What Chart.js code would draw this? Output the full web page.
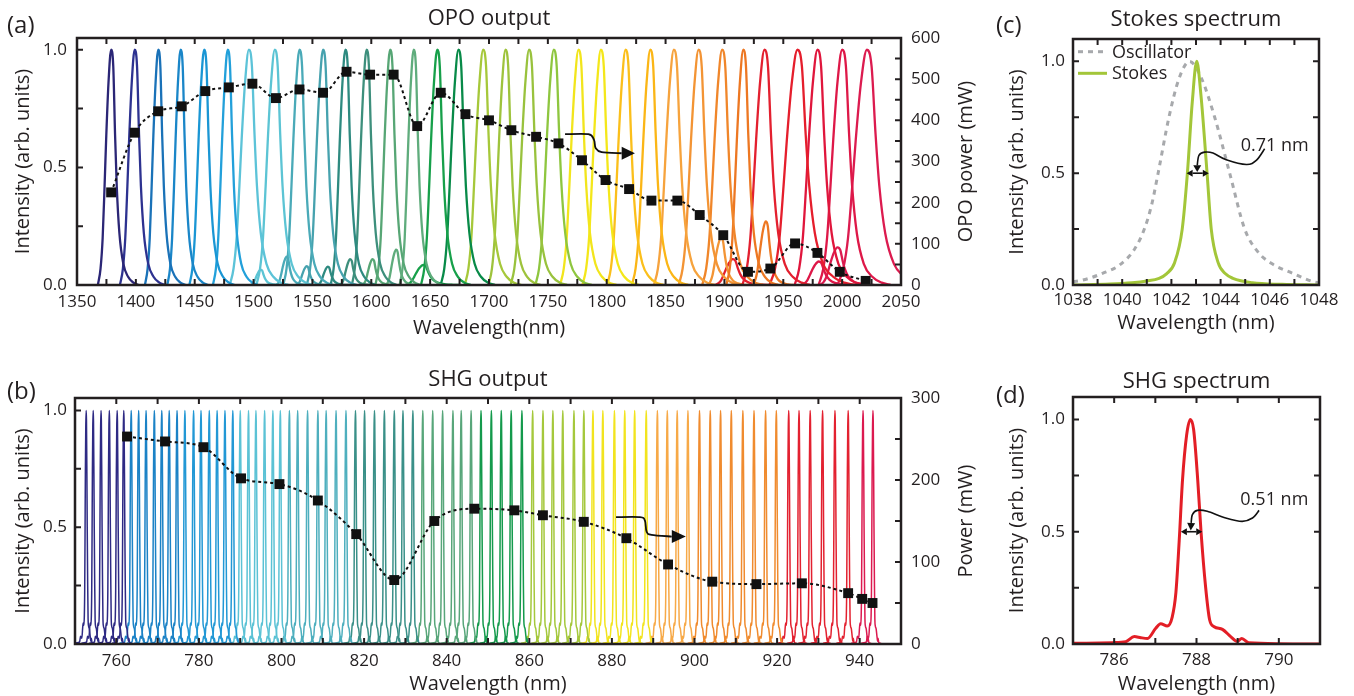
<!DOCTYPE html>
<html><head><meta charset="utf-8">
<script src="https://cdn.jsdelivr.net/npm/chart.js@4.4.1/dist/chart.umd.min.js"></script>
<style>
html,body{margin:0;padding:0;background:#fff;}
#wrap{position:relative;width:1354px;height:696px;overflow:hidden;font-family:"Open Sans",sans-serif;color:#231f20;background:#fff;}
canvas{position:absolute;}
.lab{position:absolute;font-size:24px;line-height:24px;white-space:nowrap;}
</style></head><body>
<div id="wrap">
<canvas id="cA" width="985" height="340" style="left:0;top:0"></canvas>
<canvas id="cB" width="985" height="356" style="left:0;top:340px"></canvas>
<canvas id="cC" width="369" height="340" style="left:985px;top:0"></canvas>
<canvas id="cD" width="369" height="356" style="left:985px;top:340px"></canvas>
<div class="lab" style="left:7px;top:12px">(a)</div>
<div class="lab" style="left:7px;top:378px">(b)</div>
<div class="lab" style="left:996px;top:12px">(c)</div>
<div class="lab" style="left:996px;top:382px">(d)</div>
</div>
<script>
// ================= DATA =================
// (a) OPO output
const opoXTicks = [1350,1400,1450,1500,1550,1600,1650,1700,1750,1800,1850,1900,1950,2000,2050];
const intensityTicks = [0, 0.5, 1.0];
const opoPowerTicks = [0,100,200,300,400,500,600];
const opoPowerWl = [1379,1399,1419,1439,1459,1479,1499,1519,1539,1559,1579,1599,1619,1639,1659,1680,1700,1719,1740,1759,1779,1799,1819,1838,1860,1879,1899,1920,1939,1960,1979,1998,2020];
const opoPowerMw = [225,370,422,434,471,480,489,454,475,467,518,511,511,386,467,415,400,376,360,344,303,255,233,205,205,170,121,32,40,101,78,32,10];
const opoPeakCenter = [1379,1399,1419,1438,1458,1478,1496,1518,1539,1559,1578,1596,1616,1636,1656,1674,1695,1714,1734,1755,1776,1795,1816,1837,1857,1878,1898,1916,1934,1962,1979,2000,2021];
const opoPeakFwhm = [9,10,9,9,10,10,13,12.5,11,11,10,10,10,9.5,11,12,12.5,11.5,12.5,12.5,12.5,12.5,12.5,12.5,13.5,13.5,13.5,11.5,15,19,15.5,16,20];
// normalised peak profile (offset in FWHM units, intensity)
const opoShapeOffset = [-1.25,-1.0,-0.8,-0.62,-0.47,-0.25,0,0.2,0.37,0.53,0.78,1.15,1.6,2.1,2.6];
const opoShapeLevel  = [0,0.07,0.2,0.42,0.62,0.86,1,0.93,0.64,0.42,0.22,0.09,0.035,0.01,0];
// secondary humps (index of parent trace, centre nm, height, FWHM nm)
const opoBumpParent = [7,8,9,10,11,12,13,14,25,27,28,31,32];
const opoBumpCenter = [1506,1528,1545,1563,1582,1601,1621,1644,1897,1935,1907,1980,1996];
const opoBumpHeight = [0.065,0.12,0.08,0.078,0.11,0.11,0.15,0.085,0.2,0.27,0.11,0.1,0.16];
const opoBumpFwhm   = [7,7,7,7,7,7,7,12,9,9,12,12,12];

// (b) SHG output
const shgXTicks = [760,780,800,820,840,860,880,900,920,940];
const shgPowerTicks = [0,100,200,300];
const shgPowerWl = [762.6,771.8,781.1,790.2,799.5,808.8,818.1,827.3,837.0,846.7,856.4,863.3,873.2,883.5,893.6,904.3,915.0,926.0,937.2,940.6,943.1];
const shgPowerMw = [253,247,240,202,195,175,134,78,150,165,163,157,149,129,97,76,73,74,62,55,50];
const shgPeakCenter = [
 752.7,754.4,756.3,758.3,760.2,761.8,763.6,765.4,767.2,769.2,771.0,772.8,774.7,776.6,778.7,780.5,782.5,784.4,786.3,788.2,790.0,792.0,793.8,795.9,797.9,799.7,
 801.9,803.9,806.3,808.8,810.8,813.2,815.6,817.9,820.1,822.5,824.9,827.3,829.4,831.8,834.2,836.6,839.0,841.5,843.5,845.9,848.3,
 850.8,853.2,855.6,858.2,860.8,863.3,865.7,868.1,870.8,873.2,875.4,877.8,880.6,883.1,885.5,888.3,891.0,893.4,895.8,898.4,
 901.2,903.8,906.3,908.9,911.7,914.4,917.2,919.8,922.8,925.3,928.0,931.0,934.0,937.2,940.8,943.2];

// (c) Stokes spectrum
const stokesXTicks = [1038,1040,1042,1044,1046,1048];
const oscWl = [1038.0,1038.4,1039.2,1039.9,1040.5,1040.9,1041.2,1041.46,1041.9,1042.3,1042.74,1043.2,1043.76,1044.37,1044.98,1045.5,1046.06,1046.94,1047.76,1048.0];
const oscI  = [0.015,0.022,0.052,0.09,0.16,0.25,0.36,0.5,0.75,0.92,1.0,0.93,0.75,0.5,0.25,0.15,0.097,0.052,0.015,0.01];
const stokesWl = [1038.0,1039.5,1040.4,1041.0,1041.5,1041.8,1042.13,1042.44,1042.65,1042.85,1043.03,1043.2,1043.45,1043.62,1043.9,1044.2,1044.5,1045.3,1046.5,1048.0];
const stokesI  = [0.0,0.004,0.01,0.018,0.03,0.05,0.1,0.25,0.5,0.82,1.0,0.85,0.5,0.25,0.1,0.05,0.03,0.01,0.003,0.0];

// (d) SHG spectrum
const shgSpecXTicks = [786,788,790];
const shgSpecWl = [785.0,785.96,786.28,786.49,786.65,786.81,787.01,787.13,787.29,787.41,787.50,787.58,787.66,787.76,787.85,787.93,788.03,788.11,788.22,788.32,788.43,788.63,788.83,788.99,789.10,789.27,791.0];
const shgSpecI  = [0.003,0.006,0.01,0.033,0.028,0.025,0.07,0.09,0.08,0.12,0.23,0.46,0.73,0.93,1.0,0.955,0.73,0.5,0.256,0.107,0.077,0.065,0.033,0.012,0.025,0.006,0.0];
const shgSpecPeak = 787.85;

// ================= STYLE =================
const INK = '#231f20';
const FONT = '"Open Sans", sans-serif';
Chart.defaults.font.family = FONT;
Chart.defaults.color = INK;

const opoPeakColor = ['#2b2676','#2d3290','#1a72b8','#1a86c8','#1a96d4','#22a0da','#5cc3d8','#5cc4d4','#4aaab8','#46a2ae','#2e8a80','#3d8f7c','#57a675','#5fac7c','#17a04a','#088a48','#a6c83a','#9ec33c','#99c23d','#8ec63f','#f2e51c','#f4e71a','#fbbf1b','#fbb616','#f6a33d','#f39434','#f0862a','#ed7722','#e3202f','#e51e2c','#e0163c','#de1848','#dc1b4f'];
const shgBands = [[762.5,'#2e2a84'],[776,'#1b82c6'],[789,'#2298d5'],[800.5,'#5bc2d5'],[816,'#4eafbe'],[832,'#3a9088'],[846.5,'#58a67a'],[860,'#149a4c'],[874.5,'#a5c83c'],[889.5,'#f2e41e'],[900,'#f7a947'],[921,'#f08b2e'],[939,'#e32130'],[999,'#dc1a50']];
const shgColor = nm => shgBands.find(b => nm <= b[0])[1];

function steps(a, b, s) { const r = []; for (let v = a; v <= b + 1e-9; v += s) r.push(Math.round(v * 1e6) / 1e6); return r; }
function setTicks(list) { return sc => { sc.ticks = list.map(v => ({ value: v })); }; }
const f1 = v => Number(v).toFixed(1);
const fi = v => String(v);

function xAxis(min, max, list, title, h, pad, tpad) {
  return { type: 'linear', position: 'bottom', min, max,
    afterBuildTicks: setTicks(list), afterFit: s => { s.height = h; },
    grid: { display: false, drawTicks: false }, border: { display: false },
    ticks: { padding: pad, color: INK, font: { size: 17 }, maxRotation: 0, minRotation: 0, autoSkip: false, callback: fi },
    title: { display: true, text: title, color: INK, font: { size: 20, lineHeight: 1.2 }, padding: { top: 0, bottom: tpad } } };
}
function yAxis(pos, min, max, list, fmt, w, pad, title, tpad) {
  return { type: 'linear', position: pos, min, max,
    afterBuildTicks: setTicks(list), afterFit: s => { s.width = w; },
    grid: { display: false, drawTicks: false }, border: { display: false },
    ticks: { padding: pad, color: INK, font: { size: 17 }, autoSkip: false, callback: fmt },
    title: title ? { display: true, text: title, color: INK, font: { size: 20, lineHeight: 1.2 }, padding: { top: tpad, bottom: 0 } } : { display: false } };
}
function baseOptions(titleText, tTop, tBot, padRight, scales) {
  return { responsive: false, animation: false, events: [],
    layout: { padding: { left: 0, right: padRight, top: 0, bottom: 0 } },
    elements: { point: { radius: 0 }, line: { borderJoinStyle: 'round' } },
    plugins: { legend: { display: false }, tooltip: { enabled: false },
      title: { display: true, text: titleText, color: INK, font: { size: 22, weight: 'normal', lineHeight: 1.2 }, padding: { top: tTop, bottom: tBot }, fullSize: false } },
    scales };
}

// ---- plugins ----
function framePlugin(cfg) {
  return { id: 'frame', afterDatasetsDraw(chart) {
    const { ctx, chartArea: a, scales } = chart; const L = 6;
    ctx.save(); ctx.strokeStyle = INK; ctx.lineWidth = 2; ctx.setLineDash([]);
    ctx.beginPath();
    cfg.x.forEach(v => { const p = scales.x.getPixelForValue(v); ctx.moveTo(p, a.bottom); ctx.lineTo(p, a.bottom - L); ctx.moveTo(p, a.top); ctx.lineTo(p, a.top + L); });
    cfg.yl.forEach(v => { const p = scales.y.getPixelForValue(v); ctx.moveTo(a.left, p); ctx.lineTo(a.left + L, p); });
    cfg.yr.forEach(v => { const p = scales[cfg.yrId].getPixelForValue(v); ctx.moveTo(a.right, p); ctx.lineTo(a.right - L, p); });
    ctx.stroke();
    ctx.lineWidth = 2.5; ctx.strokeRect(a.left, a.top, a.right - a.left, a.bottom - a.top);
    ctx.restore();
  }};
}
function smooth(ctx, pts) {
  ctx.moveTo(pts[0][0], pts[0][1]);
  for (let i = 0; i < pts.length - 1; i++) {
    const p0 = pts[i - 1] || pts[i], p1 = pts[i], p2 = pts[i + 1], p3 = pts[i + 2] || p2;
    ctx.bezierCurveTo(p1[0] + (p2[0] - p0[0]) / 6, p1[1] + (p2[1] - p0[1]) / 6,
                      p2[0] - (p3[0] - p1[0]) / 6, p2[1] - (p3[1] - p1[1]) / 6, p2[0], p2[1]);
  }
}
function head(ctx, base, tip, hw) {
  const dx = tip[0] - base[0], dy = tip[1] - base[1], len = Math.hypot(dx, dy) || 1;
  const nx = -dy / len, ny = dx / len;
  ctx.beginPath(); ctx.moveTo(tip[0], tip[1]);
  ctx.lineTo(base[0] + nx * hw, base[1] + ny * hw); ctx.lineTo(base[0] - nx * hw, base[1] - ny * hw);
  ctx.closePath(); ctx.fill();
}
function notesPlugin(cfg) {
  return { id: 'notes', afterDatasetsDraw(chart) {
    const { ctx, scales } = chart; const xs = scales.x, ys = scales.y;
    const P = p => [xs.getPixelForValue(p[0]), ys.getPixelForValue(p[1])];
    ctx.save(); ctx.strokeStyle = '#111'; ctx.fillStyle = '#111'; ctx.lineWidth = cfg.lw; ctx.setLineDash([]);
    (cfg.curves || []).forEach(c => {
      const pts = c.path.map(P);
      ctx.beginPath(); smooth(ctx, pts); ctx.stroke();
      head(ctx, pts[pts.length - 1], P(c.tip), c.hw);
    });
    (cfg.spans || []).forEach(s => {
      const a = P([s.x1, s.y]), b = P([s.x2, s.y]);
      ctx.beginPath(); ctx.moveTo(a[0] + s.hl, a[1]); ctx.lineTo(b[0] - s.hl, b[1]); ctx.stroke();
      head(ctx, [a[0] + s.hl, a[1]], a, s.hw); head(ctx, [b[0] - s.hl, b[1]], b, s.hw);
    });
    (cfg.texts || []).forEach(t => {
      const p = P([t.x, t.y]); ctx.font = t.size + 'px ' + FONT; ctx.fillStyle = INK;
      ctx.textAlign = 'center'; ctx.textBaseline = 'middle'; ctx.fillText(t.text, p[0], p[1]);
    });
    ctx.restore();
  }};
}
function sideTitlePlugin(text, x) {
  return { id: 'sideTitle', afterDraw(chart) {
    const { ctx, chartArea: a } = chart;
    ctx.save(); ctx.translate(x, (a.top + a.bottom) / 2); ctx.rotate(-Math.PI / 2);
    ctx.font = '20px ' + FONT; ctx.fillStyle = INK; ctx.textAlign = 'center'; ctx.textBaseline = 'middle';
    ctx.fillText(text, 0, 0); ctx.restore();
  }};
}
function insideLegend(cfg) {
  return { id: 'insideLegend', afterDatasetsDraw(chart) {
    const { ctx, chartArea: a } = chart;
    chart.data.datasets.forEach((ds, i) => {
      const y = a.top + cfg.dy + i * cfg.gap, x0 = a.left + cfg.dx;
      ctx.save(); ctx.strokeStyle = ds.borderColor; ctx.lineWidth = ds.borderWidth; ctx.setLineDash(ds.borderDash || []);
      ctx.beginPath(); ctx.moveTo(x0, y); ctx.lineTo(x0 + cfg.len, y); ctx.stroke();
      ctx.setLineDash([]); ctx.font = cfg.size + 'px ' + FONT; ctx.fillStyle = INK; ctx.textAlign = 'left'; ctx.textBaseline = 'middle';
      ctx.fillText(ds.label, x0 + cfg.len + cfg.tgap, y + 1); ctx.restore();
    });
  }};
}

const pts = (xs, ys) => xs.map((x, i) => ({ x, y: ys[i] }));
function powerSet(xs, ys) {
  return { label: 'power', data: pts(xs, ys), yAxisID: 'y2', order: 0,
    borderColor: '#111', borderWidth: 2, borderDash: [3, 3], cubicInterpolationMode: 'monotone',
    pointStyle: 'rect', pointRadius: 7, pointBackgroundColor: '#111', pointBorderColor: '#111', pointBorderWidth: 0 };
}
function traceSet(data, color, w) {
  return { data, borderColor: color, borderWidth: w, pointRadius: 0, fill: false, cubicInterpolationMode: 'monotone', order: 1 };
}

// ================= (a) =================
const aSets = [powerSet(opoPowerWl, opoPowerMw)];
opoPeakCenter.forEach((c, i) => aSets.push(traceSet(
  opoShapeOffset.map((o, k) => ({ x: c + o * opoPeakFwhm[i], y: opoShapeLevel[k] })), opoPeakColor[i], 2.3)));
opoBumpParent.forEach((p, j) => aSets.push(traceSet(
  opoShapeOffset.map((o, k) => ({ x: opoBumpCenter[j] + o * opoBumpFwhm[j], y: opoShapeLevel[k] * opoBumpHeight[j] })), opoPeakColor[p], 2.3)));

new Chart(document.getElementById('cA'), {
  type: 'line', data: { datasets: aSets },
  options: baseOptions('OPO output', 6, 5.6, 0, {
    x: xAxis(1350, 2050, opoXTicks, 'Wavelength(nm)', 55, 7, 0),
    y: yAxis('left', 0, 1.05, intensityTicks, f1, 77, 10, 'Intensity (arb. units)', 11),
    y2: yAxis('right', 0, 600, opoPowerTicks, fi, 84, 10, null, 0) }),
  plugins: [framePlugin({ x: steps(1350, 2050, 25), yl: steps(0, 1, 0.25), yr: steps(0, 600, 50), yrId: 'y2' }),
    notesPlugin({ lw: 1.8, curves: [{ path: [[1764.6,0.641],[1784.4,0.641],[1789.2,0.617],[1790.6,0.582],[1795.7,0.565],[1812.7,0.560]], tip: [1824,0.560], hw: 6.5 }] }),
    sideTitlePlugin('OPO power (mW)', 966)]
});

// ================= (b) =================
const bSets = [powerSet(shgPowerWl, shgPowerMw)];
shgPeakCenter.forEach(c => bSets.push(traceSet(
  shgSpecWl.map((w, k) => ({ x: c + (w - shgSpecPeak), y: shgSpecI[k] })), shgColor(c), 1.5)));

new Chart(document.getElementById('cB'), {
  type: 'line', data: { datasets: bSets },
  options: baseOptions('SHG output', 26.8, 4.8, 0, {
    x: xAxis(750, 950, shgXTicks, 'Wavelength (nm)', 52, 7, 0),
    y: yAxis('left', 0, 1.053, intensityTicks, f1, 75, 8, 'Intensity (arb. units)', 11),
    y2: yAxis('right', 0, 300, shgPowerTicks, fi, 84, 10, null, 0) }),
  plugins: [framePlugin({ x: steps(750, 950, 10), yl: steps(0, 1, 0.25), yr: steps(0, 300, 50), yrId: 'y2' }),
    notesPlugin({ lw: 1.8, curves: [{ path: [[881.0,0.543],[886.8,0.543],[888.0,0.528],[888.4,0.481],[889.6,0.467],[894.5,0.46]], tip: [897.9,0.46], hw: 6.5 }] }),
    sideTitlePlugin('Power (mW)', 966)]
});

// ================= (c) =================
new Chart(document.getElementById('cC'), {
  type: 'line',
  data: { datasets: [
    { label: 'Oscillator', data: pts(oscWl, oscI), borderColor: '#a7a9ac', borderWidth: 3, borderDash: [5, 5], pointRadius: 0, cubicInterpolationMode: 'monotone', order: 1 },
    { label: 'Stokes', data: pts(stokesWl, stokesI), borderColor: '#a3c639', borderWidth: 3, pointRadius: 0, cubicInterpolationMode: 'monotone', order: 0 } ] },
  options: baseOptions('Stokes spectrum', 7, 5.6, 35, {
    x: xAxis(1038, 1048, stokesXTicks, 'Wavelength (nm)', 55, 5, 5),
    y: yAxis('left', 0, 1.1, intensityTicks, f1, 88, 8, 'Intensity (arb. units)', 20) }),
  plugins: [framePlugin({ x: steps(1038, 1048, 1), yl: steps(0, 1, 0.25), yr: steps(0, 1, 0.25), yrId: 'y' }),
    insideLegend({ dx: 5, dy: 12.7, gap: 21.6, len: 29, tgap: 5, size: 18 }),
    notesPlugin({ lw: 1.6,
      curves: [{ path: [[1045.79,0.609],[1045.45,0.557],[1045.05,0.539],[1044.23,0.560],[1043.69,0.590],[1043.35,0.594],[1043.12,0.580],[1043.05,0.535]], tip: [1043.05,0.505], hw: 4 }],
      spans: [{ x1: 1042.62, x2: 1043.52, y: 0.5, hl: 6, hw: 3.5 }],
      texts: [{ text: '0.71 nm', x: 1046.2, y: 0.624, size: 18 }] })]
});

// ================= (d) =================
new Chart(document.getElementById('cD'), {
  type: 'line',
  data: { datasets: [
    { label: 'SHG', data: pts(shgSpecWl, shgSpecI), borderColor: '#e31e26', borderWidth: 3, pointRadius: 0, cubicInterpolationMode: 'monotone' } ] },
  options: baseOptions('SHG spectrum', 28.5, 2.1, 34, {
    x: xAxis(785, 791, shgSpecXTicks, 'Wavelength (nm)', 52, 6, 0),
    y: yAxis('left', 0, 1.1, intensityTicks, f1, 88, 8, 'Intensity (arb. units)', 20) }),
  plugins: [framePlugin({ x: steps(785, 791, 1), yl: steps(0, 1, 0.25), yr: steps(0, 1, 0.25), yrId: 'y' }),
    notesPlugin({ lw: 1.6,
      curves: [{ path: [[789.52,0.595],[789.36,0.561],[789.11,0.546],[788.71,0.561],[788.26,0.591],[788.02,0.595],[787.90,0.576],[787.87,0.539]], tip: [787.86,0.506], hw: 4 }],
      spans: [{ x1: 787.62, x2: 788.14, y: 0.5, hl: 6, hw: 3.5 }],
      texts: [{ text: '0.51 nm', x: 789.89, y: 0.64, size: 18 }] })]
});
</script>
</body></html>
